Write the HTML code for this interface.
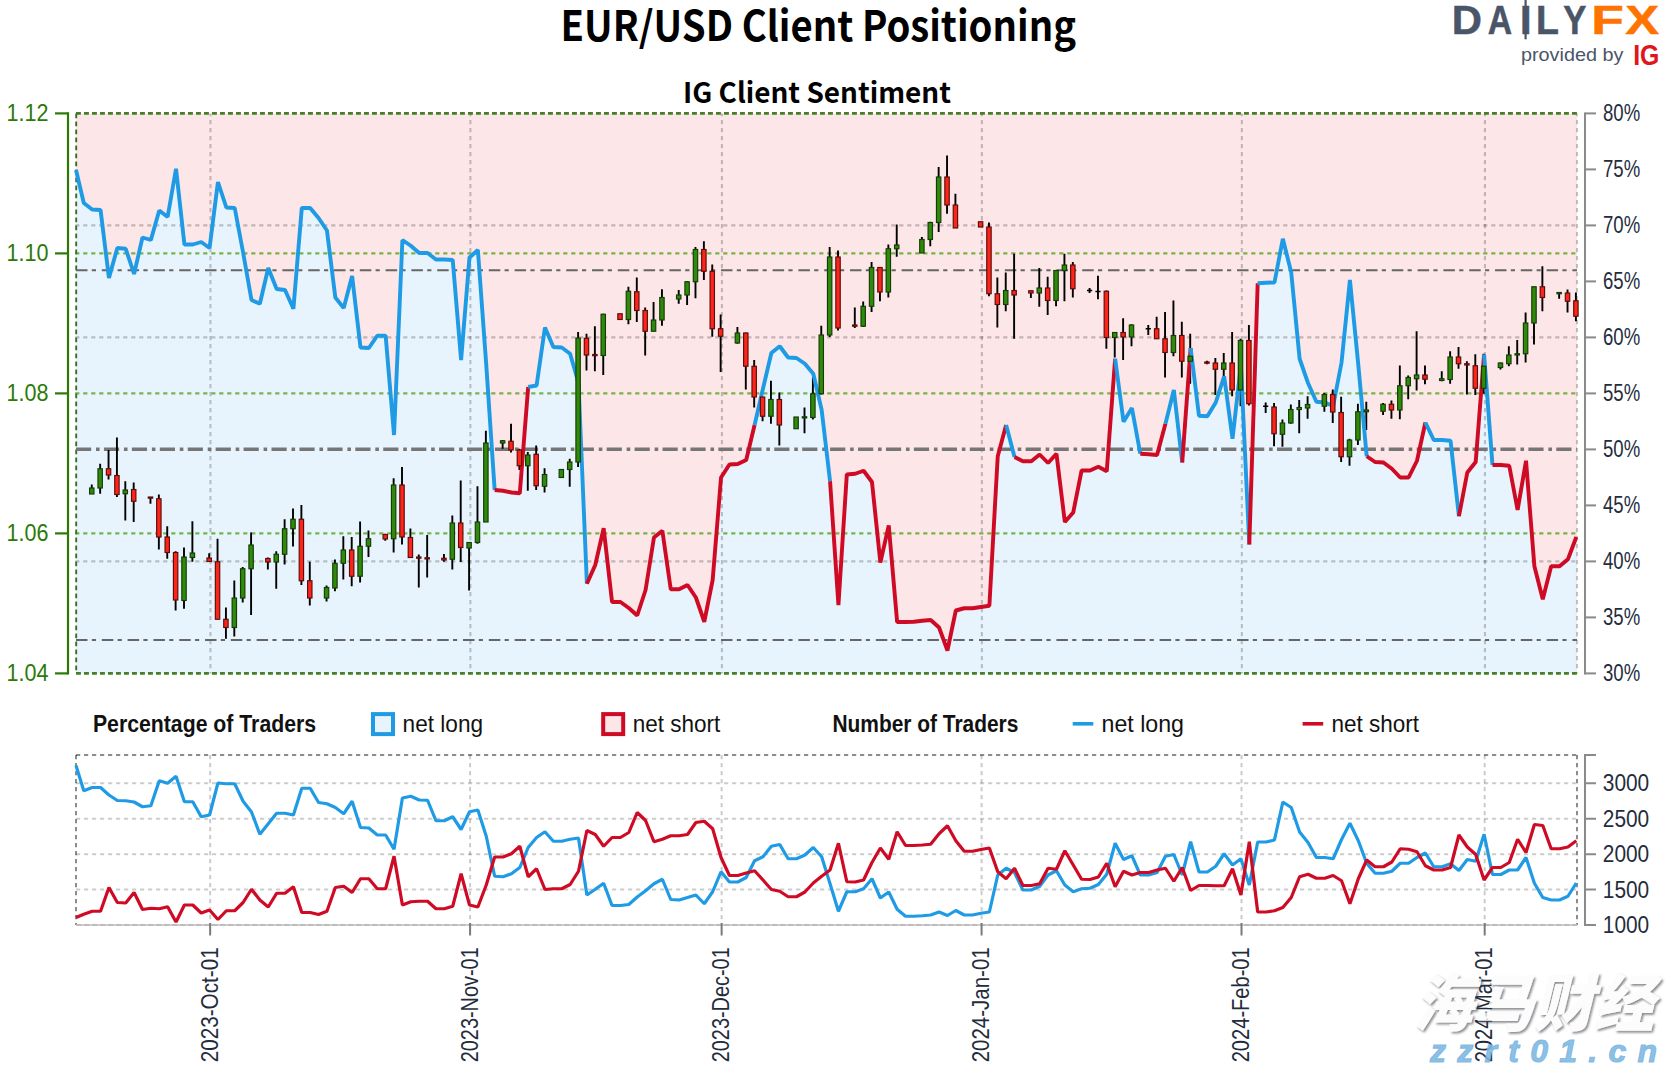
<!DOCTYPE html>
<html lang="en"><head><meta charset="utf-8"><title>EUR/USD Client Positioning</title>
<style>html,body{margin:0;padding:0;background:#fff}body{width:1665px;height:1066px;overflow:hidden}svg{display:block}text{font-family:"Liberation Sans", "DejaVu Sans", sans-serif}.tf{font-family:"Noto Sans CJK SC", "Liberation Sans", sans-serif}.cj{font-family:"Noto Sans CJK SC","WenQuanYi Zen Hei",sans-serif}</style>
</head><body>
<svg width="1665" height="1066" viewBox="0 0 1665 1066">
<rect width="1665" height="1066" fill="#fff"/>
<rect x="76" y="113.4" width="1501" height="560" fill="#fce6e8"/>
<polygon points="76,170 83.79,203 92.17,209.5 100.56,210 108.94,278 117.33,248 125.71,248.75 134.09,274 142.48,237.5 150.87,240 159.25,210.5 167.64,217 176.02,168.75 184.41,244.5 192.79,244.5 201.17,242 209.56,248 217.94,182 226.33,207.5 234.72,208 243.1,252.5 251.49,300 259.87,303.75 268.25,268 276.64,289 285.02,290 293.41,308.75 301.79,208 310.18,208 318.56,218 326.95,230.5 335.33,297.5 343.72,308 352.1,276 360.49,347.5 368.87,348 377.26,335.75 385.64,335.75 394.03,435 402.41,240 410.8,245.75 419.18,253 427.57,253 435.95,259.5 444.34,259.5 452.72,260 461.11,360 469.49,257.5 477.88,250 486.26,365 494.65,490 503.03,490.75 511.42,492.5 519.8,493.25 528.19,387 536.57,385.5 544.96,327.5 553.34,347 561.73,347.5 570.11,353.75 578.5,383 586.88,583.75 595.27,565 603.65,528.25 612.04,602 620.42,602 628.81,608 637.19,615.5 645.58,590 653.96,537.5 662.35,530.75 670.74,589.25 679.12,589.25 687.5,585 695.89,597.5 704.27,621.75 712.66,580 721.04,477.5 729.43,464.5 737.81,464 746.2,460 754.58,425 762.97,388.75 771.35,353 779.74,346.25 788.12,357.5 796.51,358 804.89,363.75 813.28,373.75 821.66,410 830.05,481.25 838.43,605 846.82,474.5 855.2,473.75 863.59,470.75 871.97,482 880.36,562.5 888.75,525.5 897.13,622 905.51,622 913.9,621.75 922.28,620.75 930.67,620 939.05,627.5 947.44,650.5 955.82,610.5 964.21,608.25 972.59,608.25 980.98,607 989.37,605.75 997.75,456.25 1006.13,425 1014.52,457 1022.9,461.25 1031.29,461.25 1039.68,454.5 1048.06,463 1056.45,453.75 1064.83,522 1073.22,512.5 1081.6,470.5 1089.99,470.5 1098.37,466.75 1106.76,471.25 1115.14,358.75 1123.53,421.75 1131.91,408 1140.3,453.75 1148.68,454.25 1157.07,455 1165.45,423.75 1173.84,390 1182.22,462.5 1190.61,348 1198.99,415.75 1207.38,416.25 1215.76,402.5 1224.14,376.25 1232.53,438.75 1240.91,365 1249.3,544.5 1257.69,283.25 1266.07,282.75 1274.46,282.5 1282.84,238.75 1291.23,272.5 1299.61,358.75 1308,383 1316.38,401.75 1324.77,402.5 1333.15,406 1341.54,362.5 1349.92,280 1358.31,365 1366.69,456.25 1375.08,462 1383.46,462.5 1391.85,468.75 1400.23,477.5 1408.62,477.5 1417,460.75 1425.38,422.5 1433.77,440 1442.15,440 1450.54,440.75 1458.92,516.25 1467.31,472.5 1475.7,462 1484.08,354.5 1492.47,465 1500.85,465 1509.24,465.75 1517.62,510 1526.01,460.75 1534.39,566.25 1542.78,599.25 1551.16,566.25 1559.55,566.25 1567.93,559.25 1576.32,537 1577,673.4 76,673.4" fill="#e8f4fd"/>
<g fill="none" stroke-width="2.1" stroke-dasharray="4.2 3.8">
<path d="M75.2 225.4H1577" stroke="#000" stroke-opacity="0.22"/>
<path d="M75.2 337.4H1577" stroke="#000" stroke-opacity="0.22"/>
<path d="M75.2 561.4H1577" stroke="#000" stroke-opacity="0.22"/>
<path d="M210.46 673.4V113.4" stroke="#000" stroke-opacity="0.22" stroke-dashoffset="2.8"/>
<path d="M470.39 673.4V113.4" stroke="#000" stroke-opacity="0.22" stroke-dashoffset="2.8"/>
<path d="M721.94 673.4V113.4" stroke="#000" stroke-opacity="0.22" stroke-dashoffset="2.8"/>
<path d="M981.88 673.4V113.4" stroke="#000" stroke-opacity="0.22" stroke-dashoffset="2.8"/>
<path d="M1241.81 673.4V113.4" stroke="#000" stroke-opacity="0.22" stroke-dashoffset="2.8"/>
<path d="M1484.98 673.4V113.4" stroke="#000" stroke-opacity="0.22" stroke-dashoffset="2.8"/>
<path d="M1577 673.4V113.4" stroke="#000" stroke-opacity="0.22" stroke-dashoffset="2.8"/>
<path d="M75.2 253.4H1577" stroke="#77b34a"/>
<path d="M75.2 393.4H1577" stroke="#77b34a"/>
<path d="M75.2 533.4H1577" stroke="#77b34a"/>
</g>
<g fill="none" stroke="#457f2a" stroke-width="2.6" stroke-dasharray="4.9 3.1">
<path d="M76 113.4H1577"/>
<path d="M76 673.4H1577"/>
<path d="M76.2 113.4V673.4" stroke-width="1.9" stroke="#3a6e25"/>
</g>
<path d="M76 270.25H1577" fill="none" stroke="#666" stroke-width="1.8" stroke-dasharray="11.5 4.3 4.2 5.8"/>
<path d="M76 640H1577" fill="none" stroke="#666" stroke-width="1.8" stroke-dasharray="11.5 4.3 4.2 5.8"/>
<path d="M76 449.3H1577" fill="none" stroke="#767676" stroke-width="3.6" stroke-dasharray="15.2 4.8 3.6 4.33"/>
<g stroke="#000" stroke-width="1.9" fill="none">
<path d="M91.77 484.5V494M100.16 463.75V493.75M108.54 450V479.5M116.92 437.5V497M125.31 481.25V520.5M133.69 482.5V522M150.47 497V503.75M158.85 494.5V549.5M167.24 526.25V558.75M175.62 551.25V610.5M184 547.5V608.75M192.39 521.25V561.75M209.16 553.25V562M217.54 538.75V619.25M225.93 607.5V638.75M234.31 580.5V636.5M242.7 567V602.5M251.09 532.5V615M267.86 557.5V569.5M276.24 551.25V588.75M284.62 519.25V564.5M293.01 508.5V546.5M301.39 505V585M309.78 561.75V605.5M326.55 585.5V601.5M334.94 559.5V591.25M343.32 536.25V579.5M351.7 537V586.25M360.09 521.5V582.5M368.47 530.5V557M385.25 533.75V540.75M393.63 478.25V552.5M402.01 467V544.5M410.4 528.5V558M418.78 554.5V587.5M427.17 535V577.5M443.94 554V561.75M452.32 515.5V569.5M460.71 480.5V562M469.09 542V590.5M477.48 486.25V543.75M485.87 430.75V522M502.63 440V448.75M511.02 423.75V452.5M519.4 448.75V470M527.79 452V490.75M536.17 445.5V490M544.56 468.25V492.5M569.71 458.75V486.75M578.1 332V467M586.49 333.75V370.5M594.87 326.25V371.25M603.25 313.75V375M628.41 286.75V324.25M636.79 277.5V322M645.18 307.5V355.5M653.56 302V331.25M661.95 289.25V325.75M678.72 290V303.75M687.11 281.25V305M695.49 247V298.25M703.88 241.25V280M712.26 264.5V336.75M720.64 314.5V372M737.41 327V343.75M745.8 332.5V389.5M754.18 360V407.5M762.57 397V421.25M770.95 380.75V423.75M779.34 392.5V445.5M804.5 407.5V433.25M812.88 377.5V419.5M821.26 325.75V394.5M829.65 247V337M838.03 250.5V330.5M854.8 307.5V328M863.19 301.5V327M871.57 262V312M879.96 267V301.25M888.35 244.5V297.5M896.73 224.5V256.75M921.88 237V253M930.27 221.75V246.25M938.65 167V232M947.04 155.5V213.75M955.42 193.75V228M988.97 222.5V296.25M997.35 277.5V327.5M1005.74 272.5V311.25M1014.12 253.75V338.75M1030.89 290.75V298M1039.28 268V306.75M1047.66 276.75V315M1056.05 270V306.25M1064.43 253.75V301.25M1072.82 262V297.5M1089.59 288V293M1097.97 275.75V299.25M1106.36 290.5V348.75M1114.74 332V357.5M1123.12 318.25V360M1131.51 324.25V346.25M1148.28 325V335M1156.66 316.75V338.75M1165.05 312V377.5M1173.43 300.5V356.25M1181.82 321.75V377.5M1190.2 333.75V383.75M1206.97 360.75V364.25M1215.36 358V395M1223.74 353V376.25M1232.13 332V396.25M1240.51 338.75V406.25M1248.9 325V405.5M1265.67 402.5V413M1274.06 403V446.25M1282.44 419.5V446.75M1290.83 404.5V423.75M1299.21 400V433.25M1307.6 396.25V418.75M1324.37 393V411.75M1332.75 389.5V423M1341.13 396.75V462M1349.52 438.75V465.75M1357.9 403.75V445M1366.29 401.75V430M1383.06 403V415M1391.44 400.5V418.75M1399.83 365.5V419.25M1408.21 375.5V399.25M1416.6 331.25V390.5M1424.98 365.5V384.25M1441.75 371.25V381.25M1450.14 351.25V383.75M1458.52 347V368.75M1466.91 361.25V394.5M1475.3 354.25V395M1483.68 353.75V393.75M1500.45 362.5V369.5M1508.84 346.25V366.25M1517.22 340V364.5M1525.61 312.5V362.5M1533.99 286.75V344.5M1542.38 266.25V311.25M1559.14 292.5V298.75M1567.53 289.5V312.5M1575.91 292.5V321.25"/>
</g>
<g fill="none" stroke-width="3.9" stroke-linejoin="bevel" stroke-linecap="butt">
<polyline stroke="#1e9be4" points="76,170 83.79,203 92.17,209.5 100.56,210 108.94,278 117.33,248 125.71,248.75 134.09,274 142.48,237.5 150.87,240 159.25,210.5 167.64,217 176.02,168.75 184.41,244.5 192.79,244.5 201.17,242 209.56,248 217.94,182 226.33,207.5 234.72,208 243.1,252.5 251.49,300 259.87,303.75 268.25,268 276.64,289 285.02,290 293.41,308.75 301.79,208 310.18,208 318.56,218 326.95,230.5 335.33,297.5 343.72,308 352.1,276 360.49,347.5 368.87,348 377.26,335.75 385.64,335.75 394.03,435 402.41,240 410.8,245.75 419.18,253 427.57,253 435.95,259.5 444.34,259.5 452.72,260 461.11,360 469.49,257.5 477.88,250 486.26,365 494.65,490"/>
<polyline stroke="#cf0a24" points="494.65,490 503.03,490.75 511.42,492.5 519.8,493.25 528.19,387"/>
<polyline stroke="#1e9be4" points="528.19,387 536.57,385.5 544.96,327.5 553.34,347 561.73,347.5 570.11,353.75 578.5,383 586.88,583.75"/>
<polyline stroke="#cf0a24" points="586.88,583.75 595.27,565 603.65,528.25 612.04,602 620.42,602 628.81,608 637.19,615.5 645.58,590 653.96,537.5 662.35,530.75 670.74,589.25 679.12,589.25 687.5,585 695.89,597.5 704.27,621.75 712.66,580 721.04,477.5 729.43,464.5 737.81,464 746.2,460 754.58,425"/>
<polyline stroke="#1e9be4" points="754.58,425 762.97,388.75 771.35,353 779.74,346.25 788.12,357.5 796.51,358 804.89,363.75 813.28,373.75 821.66,410 830.05,481.25"/>
<polyline stroke="#cf0a24" points="830.05,481.25 838.43,605 846.82,474.5 855.2,473.75 863.59,470.75 871.97,482 880.36,562.5 888.75,525.5 897.13,622 905.51,622 913.9,621.75 922.28,620.75 930.67,620 939.05,627.5 947.44,650.5 955.82,610.5 964.21,608.25 972.59,608.25 980.98,607 989.37,605.75 997.75,456.25 1006.13,425"/>
<polyline stroke="#1e9be4" points="1006.13,425 1014.52,457"/>
<polyline stroke="#cf0a24" points="1014.52,457 1022.9,461.25 1031.29,461.25 1039.68,454.5 1048.06,463 1056.45,453.75 1064.83,522 1073.22,512.5 1081.6,470.5 1089.99,470.5 1098.37,466.75 1106.76,471.25 1115.14,358.75"/>
<polyline stroke="#1e9be4" points="1115.14,358.75 1123.53,421.75 1131.91,408 1140.3,453.75"/>
<polyline stroke="#cf0a24" points="1140.3,453.75 1148.68,454.25 1157.07,455 1165.45,423.75"/>
<polyline stroke="#1e9be4" points="1165.45,423.75 1173.84,390 1182.22,462.5"/>
<polyline stroke="#cf0a24" points="1182.22,462.5 1190.61,348"/>
<polyline stroke="#1e9be4" points="1190.61,348 1198.99,415.75 1207.38,416.25 1215.76,402.5 1224.14,376.25 1232.53,438.75 1240.91,365 1249.3,544.5"/>
<polyline stroke="#cf0a24" points="1249.3,544.5 1257.69,283.25"/>
<polyline stroke="#1e9be4" points="1257.69,283.25 1266.07,282.75 1274.46,282.5 1282.84,238.75 1291.23,272.5 1299.61,358.75 1308,383 1316.38,401.75 1324.77,402.5 1333.15,406 1341.54,362.5 1349.92,280 1358.31,365 1366.69,456.25"/>
<polyline stroke="#cf0a24" points="1366.69,456.25 1375.08,462 1383.46,462.5 1391.85,468.75 1400.23,477.5 1408.62,477.5 1417,460.75 1425.38,422.5"/>
<polyline stroke="#1e9be4" points="1425.38,422.5 1433.77,440 1442.15,440 1450.54,440.75 1458.92,516.25"/>
<polyline stroke="#cf0a24" points="1458.92,516.25 1467.31,472.5 1475.7,462 1484.08,354.5"/>
<polyline stroke="#1e9be4" points="1484.08,354.5 1492.47,465"/>
<polyline stroke="#cf0a24" points="1492.47,465 1500.85,465 1509.24,465.75 1517.62,510 1526.01,460.75 1534.39,566.25 1542.78,599.25 1551.16,566.25 1559.55,566.25 1567.93,559.25 1576.32,537"/>
</g>
<g fill="#2f8a0b" stroke="#143d05" stroke-width="1.15"><rect x="89.57" y="488" width="4.4" height="6"/><rect x="97.95" y="468.75" width="4.4" height="19.25"/><rect x="123.11" y="490" width="4.4" height="3.75"/><rect x="181.81" y="557" width="4.4" height="43.5"/><rect x="190.19" y="553" width="4.4" height="4.5"/><rect x="232.12" y="598" width="4.4" height="29.5"/><rect x="240.5" y="568.75" width="4.4" height="29.25"/><rect x="248.89" y="545" width="4.4" height="23.75"/><rect x="274.04" y="554.25" width="4.4" height="7.75"/><rect x="282.43" y="528.75" width="4.4" height="25.5"/><rect x="290.81" y="519.25" width="4.4" height="9.5"/><rect x="324.35" y="587.5" width="4.4" height="10.5"/><rect x="332.74" y="563.25" width="4.4" height="24.75"/><rect x="341.12" y="550" width="4.4" height="13.25"/><rect x="357.89" y="546.25" width="4.4" height="30"/><rect x="366.27" y="538.75" width="4.4" height="7.5"/><rect x="391.43" y="485" width="4.4" height="53.75"/><rect x="450.12" y="523" width="4.4" height="36.25"/><rect x="466.89" y="542.5" width="4.4" height="5.5"/><rect x="475.28" y="522" width="4.4" height="20.5"/><rect x="483.67" y="443" width="4.4" height="79"/><rect x="500.44" y="440.75" width="4.4" height="2.25"/><rect x="525.59" y="455" width="4.4" height="10.75"/><rect x="542.36" y="474.5" width="4.4" height="11.75"/><rect x="559.13" y="469.5" width="4.4" height="8"/><rect x="567.51" y="462" width="4.4" height="7.5"/><rect x="575.9" y="338" width="4.4" height="124"/><rect x="601.05" y="314.25" width="4.4" height="41.25"/><rect x="626.21" y="291.25" width="4.4" height="28.25"/><rect x="651.36" y="320" width="4.4" height="11.25"/><rect x="659.75" y="297.5" width="4.4" height="22.5"/><rect x="676.52" y="295" width="4.4" height="4"/><rect x="684.9" y="281.75" width="4.4" height="13.25"/><rect x="693.29" y="249.5" width="4.4" height="32.25"/><rect x="735.21" y="333" width="4.4" height="10"/><rect x="768.75" y="399.5" width="4.4" height="16.75"/><rect x="793.91" y="417" width="4.4" height="11.75"/><rect x="802.29" y="416.75" width="4.4" height="1.2"/><rect x="810.68" y="393.75" width="4.4" height="23.75"/><rect x="819.06" y="335" width="4.4" height="58.75"/><rect x="827.45" y="257" width="4.4" height="78"/><rect x="860.99" y="306.25" width="4.4" height="20"/><rect x="869.37" y="267.5" width="4.4" height="38.75"/><rect x="886.14" y="248.75" width="4.4" height="43.25"/><rect x="894.53" y="245" width="4.4" height="3.75"/><rect x="919.68" y="239.5" width="4.4" height="13.5"/><rect x="928.07" y="222.5" width="4.4" height="17"/><rect x="936.45" y="177" width="4.4" height="45.5"/><rect x="1003.53" y="290.5" width="4.4" height="14"/><rect x="1037.08" y="288" width="4.4" height="5"/><rect x="1053.85" y="270.5" width="4.4" height="30"/><rect x="1062.23" y="265" width="4.4" height="5.5"/><rect x="1112.54" y="332.5" width="4.4" height="5"/><rect x="1129.31" y="325" width="4.4" height="12"/><rect x="1171.23" y="335.5" width="4.4" height="17"/><rect x="1188" y="356.25" width="4.4" height="5"/><rect x="1221.54" y="363" width="4.4" height="6.25"/><rect x="1238.31" y="340.5" width="4.4" height="49.5"/><rect x="1280.24" y="423" width="4.4" height="11.25"/><rect x="1288.62" y="409.5" width="4.4" height="13.5"/><rect x="1297.01" y="407.5" width="4.4" height="2"/><rect x="1305.39" y="404.5" width="4.4" height="3.5"/><rect x="1322.16" y="394.5" width="4.4" height="11.75"/><rect x="1347.32" y="440" width="4.4" height="16.75"/><rect x="1355.7" y="411.75" width="4.4" height="28.25"/><rect x="1364.09" y="410" width="4.4" height="1.75"/><rect x="1380.86" y="404.25" width="4.4" height="7"/><rect x="1397.63" y="385.75" width="4.4" height="24.25"/><rect x="1406.01" y="377.5" width="4.4" height="8.25"/><rect x="1414.4" y="375" width="4.4" height="3.75"/><rect x="1439.55" y="378.75" width="4.4" height="1.75"/><rect x="1447.94" y="357" width="4.4" height="22.5"/><rect x="1481.48" y="366.25" width="4.4" height="22"/><rect x="1498.25" y="363" width="4.4" height="4.5"/><rect x="1506.63" y="355" width="4.4" height="8.75"/><rect x="1515.02" y="353.75" width="4.4" height="1.25"/><rect x="1523.4" y="323" width="4.4" height="30.75"/><rect x="1531.79" y="286.75" width="4.4" height="36.25"/><rect x="1556.94" y="292.5" width="4.4" height="1.25"/></g>
<g fill="#ff2419" stroke="#5a0d0a" stroke-width="1.15"><rect x="106.34" y="468.75" width="4.4" height="6.25"/><rect x="114.72" y="475.5" width="4.4" height="19"/><rect x="131.5" y="489.5" width="4.4" height="11.75"/><rect x="148.27" y="497" width="4.4" height="1.2"/><rect x="156.65" y="498.75" width="4.4" height="38.25"/><rect x="165.04" y="537" width="4.4" height="15.5"/><rect x="173.42" y="552.5" width="4.4" height="47.5"/><rect x="206.96" y="558" width="4.4" height="3.5"/><rect x="215.34" y="561.75" width="4.4" height="57.5"/><rect x="223.73" y="619.25" width="4.4" height="8.25"/><rect x="265.66" y="558.5" width="4.4" height="3.5"/><rect x="299.19" y="519.25" width="4.4" height="61.5"/><rect x="307.58" y="580.75" width="4.4" height="17.25"/><rect x="349.5" y="550" width="4.4" height="26.25"/><rect x="383.05" y="534.5" width="4.4" height="4.5"/><rect x="399.81" y="485" width="4.4" height="52"/><rect x="408.2" y="537.5" width="4.4" height="20"/><rect x="416.58" y="557" width="4.4" height="1.2"/><rect x="424.97" y="557.75" width="4.4" height="1.2"/><rect x="441.74" y="558.25" width="4.4" height="1.75"/><rect x="458.51" y="523" width="4.4" height="24.5"/><rect x="508.82" y="441.25" width="4.4" height="8.75"/><rect x="517.2" y="450" width="4.4" height="15.75"/><rect x="533.97" y="454.25" width="4.4" height="31.5"/><rect x="584.28" y="338.25" width="4.4" height="16.75"/><rect x="592.67" y="354.5" width="4.4" height="1.2"/><rect x="617.82" y="313.75" width="4.4" height="5.75"/><rect x="634.59" y="291.75" width="4.4" height="18.75"/><rect x="642.98" y="310.5" width="4.4" height="20.75"/><rect x="701.67" y="249.5" width="4.4" height="21.75"/><rect x="710.06" y="271.25" width="4.4" height="57.5"/><rect x="718.44" y="328.75" width="4.4" height="7.5"/><rect x="743.6" y="333" width="4.4" height="33.25"/><rect x="751.98" y="366.25" width="4.4" height="30.75"/><rect x="760.37" y="397" width="4.4" height="19.25"/><rect x="777.14" y="399.5" width="4.4" height="25.5"/><rect x="835.83" y="257" width="4.4" height="71"/><rect x="852.6" y="325" width="4.4" height="1.25"/><rect x="877.76" y="267.5" width="4.4" height="24.5"/><rect x="944.84" y="177" width="4.4" height="28"/><rect x="953.22" y="205" width="4.4" height="23"/><rect x="978.38" y="221.75" width="4.4" height="5.25"/><rect x="986.76" y="227" width="4.4" height="66.75"/><rect x="995.15" y="293.75" width="4.4" height="10.75"/><rect x="1011.92" y="290.5" width="4.4" height="4.5"/><rect x="1028.69" y="290.75" width="4.4" height="2.25"/><rect x="1045.46" y="288" width="4.4" height="12.5"/><rect x="1070.62" y="265" width="4.4" height="23.75"/><rect x="1104.15" y="291.25" width="4.4" height="46.25"/><rect x="1120.92" y="332.5" width="4.4" height="4.5"/><rect x="1154.46" y="328.75" width="4.4" height="10"/><rect x="1162.85" y="338.75" width="4.4" height="13.75"/><rect x="1179.62" y="335.5" width="4.4" height="25.75"/><rect x="1204.77" y="362" width="4.4" height="1.2"/><rect x="1213.16" y="363" width="4.4" height="6.25"/><rect x="1229.93" y="363" width="4.4" height="27"/><rect x="1246.7" y="340.5" width="4.4" height="63.25"/><rect x="1271.86" y="407" width="4.4" height="26.75"/><rect x="1330.55" y="394.5" width="4.4" height="17.5"/><rect x="1338.93" y="412.5" width="4.4" height="44.25"/><rect x="1389.24" y="404.25" width="4.4" height="5.75"/><rect x="1422.78" y="375" width="4.4" height="4.25"/><rect x="1456.32" y="357" width="4.4" height="6.75"/><rect x="1464.71" y="363.75" width="4.4" height="1.25"/><rect x="1473.1" y="365.75" width="4.4" height="22.5"/><rect x="1540.17" y="286.75" width="4.4" height="10.75"/><rect x="1565.33" y="293" width="4.4" height="8.25"/><rect x="1573.71" y="300.75" width="4.4" height="15.5"/></g>
<path d="M1086.99 290.5H1092.18M1095.37 291.5H1100.57M1145.68 328.75H1150.88M1263.07 406.25H1268.27" stroke="#000" stroke-width="1.6" fill="none"/>
<g fill="none" stroke="#2b7a06" stroke-width="2.2">
<path d="M68 112.3V674.5"/>
<path d="M55 113.4H68"/>
<path d="M55 253.4H68"/>
<path d="M55 393.4H68"/>
<path d="M55 533.4H68"/>
<path d="M55 673.4H68"/>
</g>
<g fill="none" stroke="#8a8a8a" stroke-width="2">
<path d="M1585 112.4V674.4"/>
<path d="M1585 113.4H1596"/>
<path d="M1585 169.4H1596"/>
<path d="M1585 225.4H1596"/>
<path d="M1585 281.4H1596"/>
<path d="M1585 337.4H1596"/>
<path d="M1585 393.4H1596"/>
<path d="M1585 449.4H1596"/>
<path d="M1585 505.4H1596"/>
<path d="M1585 561.4H1596"/>
<path d="M1585 617.4H1596"/>
<path d="M1585 673.4H1596"/>
</g>
<text x="6.6" y="121" font-size="23" fill="#2b7a06" textLength="41.9" lengthAdjust="spacingAndGlyphs">1.12</text>
<text x="6.6" y="261" font-size="23" fill="#2b7a06" textLength="41.9" lengthAdjust="spacingAndGlyphs">1.10</text>
<text x="6.6" y="401" font-size="23" fill="#2b7a06" textLength="41.9" lengthAdjust="spacingAndGlyphs">1.08</text>
<text x="6.6" y="541" font-size="23" fill="#2b7a06" textLength="41.9" lengthAdjust="spacingAndGlyphs">1.06</text>
<text x="6.6" y="681" font-size="23" fill="#2b7a06" textLength="41.9" lengthAdjust="spacingAndGlyphs">1.04</text>
<text x="1603" y="120.8" font-size="23" fill="#1f2d3d" textLength="37.2" lengthAdjust="spacingAndGlyphs">80%</text>
<text x="1603" y="176.8" font-size="23" fill="#1f2d3d" textLength="37.2" lengthAdjust="spacingAndGlyphs">75%</text>
<text x="1603" y="232.8" font-size="23" fill="#1f2d3d" textLength="37.2" lengthAdjust="spacingAndGlyphs">70%</text>
<text x="1603" y="288.8" font-size="23" fill="#1f2d3d" textLength="37.2" lengthAdjust="spacingAndGlyphs">65%</text>
<text x="1603" y="344.8" font-size="23" fill="#1f2d3d" textLength="37.2" lengthAdjust="spacingAndGlyphs">60%</text>
<text x="1603" y="400.8" font-size="23" fill="#1f2d3d" textLength="37.2" lengthAdjust="spacingAndGlyphs">55%</text>
<text x="1603" y="456.8" font-size="23" fill="#1f2d3d" textLength="37.2" lengthAdjust="spacingAndGlyphs">50%</text>
<text x="1603" y="512.8" font-size="23" fill="#1f2d3d" textLength="37.2" lengthAdjust="spacingAndGlyphs">45%</text>
<text x="1603" y="568.8" font-size="23" fill="#1f2d3d" textLength="37.2" lengthAdjust="spacingAndGlyphs">40%</text>
<text x="1603" y="624.8" font-size="23" fill="#1f2d3d" textLength="37.2" lengthAdjust="spacingAndGlyphs">35%</text>
<text x="1603" y="680.8" font-size="23" fill="#1f2d3d" textLength="37.2" lengthAdjust="spacingAndGlyphs">30%</text>
<text x="92.9" y="732" font-size="23" fill="#111" font-weight="bold" textLength="223.2" lengthAdjust="spacingAndGlyphs">Percentage of Traders</text>
<rect x="373" y="714.1" width="20" height="20" fill="#e8f4fd" stroke="#1e9be4" stroke-width="4"/>
<text x="402.6" y="732" font-size="24.5" fill="#111" textLength="80.5" lengthAdjust="spacingAndGlyphs">net long</text>
<rect x="603.2" y="714.1" width="20" height="20" fill="#fce6e8" stroke="#cf0a24" stroke-width="4"/>
<text x="632.7" y="732" font-size="24.5" fill="#111" textLength="87.5" lengthAdjust="spacingAndGlyphs">net short</text>
<text x="832.4" y="732" font-size="23" fill="#111" font-weight="bold" textLength="186" lengthAdjust="spacingAndGlyphs">Number of Traders</text>
<path d="M1072.7 723.8H1093.3" stroke="#1e9be4" stroke-width="3.6"/>
<text x="1101.5" y="732" font-size="24.5" fill="#111" textLength="82.5" lengthAdjust="spacingAndGlyphs">net long</text>
<path d="M1302.6 723.8H1323.2" stroke="#cf0a24" stroke-width="3.6"/>
<text x="1331.5" y="732" font-size="24.5" fill="#111" textLength="87.6" lengthAdjust="spacingAndGlyphs">net short</text>
<g fill="none" stroke="#000" stroke-opacity="0.2" stroke-width="2" stroke-dasharray="4.2 3.8">
<path d="M76 783.25H1577"/>
<path d="M76 818.75H1577"/>
<path d="M76 854.25H1577"/>
<path d="M76 889.5H1577"/>
<path d="M210.16 755V925"/>
<path d="M470.09 755V925"/>
<path d="M721.64 755V925"/>
<path d="M981.58 755V925"/>
<path d="M1241.51 755V925"/>
<path d="M1484.68 755V925"/>
</g>
<g fill="none" stroke="#000" stroke-opacity="0.45" stroke-width="2" stroke-dasharray="4.2 3.8">
<path d="M76 755H1577"/>
<path d="M76 755V925"/>
<path d="M1577 755V925"/>
</g>
<path d="M76 925H1577" fill="none" stroke="#d2d2d2" stroke-width="2"/>
<path d="M76 925H1577" fill="none" stroke="#bcbcbc" stroke-width="2" stroke-dasharray="5.6 2.4"/>
<g fill="none" stroke-width="3.2" stroke-linejoin="bevel">
<polyline stroke="#1e9be4" points="76,765.5 83.79,790.75 92.17,787.5 100.56,787.5 108.94,795 117.33,800.5 125.71,800.75 134.09,802 142.48,806.75 150.87,805.75 159.25,780.75 167.64,783.25 176.02,776.25 184.41,801.75 192.79,801.75 201.17,816.75 209.56,815 217.94,783 226.33,783.75 234.72,783.75 243.1,801.25 251.49,812 259.87,834.25 268.25,823.75 276.64,813.25 285.02,813.25 293.41,815 301.79,788.25 310.18,788.25 318.56,802.5 326.95,803.75 335.33,807.5 343.72,813.75 352.1,801.25 360.49,827.5 368.87,828 377.26,835 385.64,835 394.03,849.25 402.41,798 410.8,796.25 419.18,800 427.57,800.25 435.95,820.75 444.34,820.75 452.72,816.75 461.11,829.5 469.49,811.75 477.88,810 486.26,836.25 494.65,876.25 503.03,876.75 511.42,873.75 519.8,867.5 528.19,847.5 536.57,837.5 544.96,831.75 553.34,841.25 561.73,841.25 570.11,839.25 578.5,838 586.88,895 595.27,889.25 603.65,883.25 612.04,905.5 620.42,905.5 628.81,904.5 637.19,897 645.58,890.75 653.96,883.75 662.35,879.25 670.74,899.5 679.12,900 687.5,897.5 695.89,895 704.27,903.75 712.66,891.75 721.04,871.75 729.43,882 737.81,882 746.2,877.5 754.58,860.75 762.97,856.75 771.35,846.25 779.74,844.5 788.12,858.75 796.51,858.75 804.89,855 813.28,847.5 821.66,856.75 830.05,883.75 838.43,911.25 846.82,891.75 855.2,891.75 863.59,888.75 871.97,878.75 880.36,898 888.75,892 897.13,909.25 905.51,916.25 913.9,916.25 922.28,915.75 930.67,915 939.05,912 947.44,915.5 955.82,910.5 964.21,915 972.59,915 980.98,913.25 989.37,912 997.75,875 1006.13,868.25 1014.52,872.5 1022.9,890 1031.29,890 1039.68,886.25 1048.06,875 1056.45,870.75 1064.83,885 1073.22,891.75 1081.6,888.75 1089.99,888.25 1098.37,884.5 1106.76,874.25 1115.14,843.25 1123.53,859.5 1131.91,855.75 1140.3,875 1148.68,875 1157.07,872.5 1165.45,856.25 1173.84,854.5 1182.22,875 1190.61,841.75 1198.99,872 1207.38,872 1215.76,866.25 1224.14,853.75 1232.53,865 1240.91,858.75 1249.3,885 1257.69,842 1266.07,842 1274.46,840 1282.84,802 1291.23,807.5 1299.61,832 1308,842.5 1316.38,857.5 1324.77,857.5 1333.15,858.75 1341.54,839.5 1349.92,823.25 1358.31,840.75 1366.69,863.25 1375.08,873.25 1383.46,873.25 1391.85,871.25 1400.23,863.25 1408.62,863.25 1417,857.5 1425.38,853 1433.77,866.75 1442.15,866.75 1450.54,863.75 1458.92,870.5 1467.31,859.5 1475.7,861.25 1484.08,834.25 1492.47,874.5 1500.85,874.5 1509.24,870 1517.62,870 1526.01,857.5 1534.39,883.25 1542.78,897.5 1551.16,900 1559.55,900 1567.93,896.25 1576.32,883"/>
<polyline stroke="#cf0a24" points="76,917.5 83.79,914.25 92.17,911.25 100.56,911.25 108.94,887.5 117.33,902.5 125.71,903 134.09,892.5 142.48,909.5 150.87,908.25 159.25,908.75 167.64,906.75 176.02,922 184.41,905 192.79,905 201.17,913 209.56,910 217.94,919.5 226.33,910.75 234.72,910.75 243.1,902.5 251.49,889.25 259.87,900 268.25,907 276.64,893.25 285.02,893.25 293.41,886.75 301.79,912.5 310.18,912.5 318.56,914.5 326.95,911.25 335.33,887.5 343.72,886.25 352.1,892.5 360.49,878.75 368.87,878.75 377.26,888.75 385.64,888.75 394.03,856.25 402.41,905 410.8,901.75 419.18,901.25 427.57,901.25 435.95,908.75 444.34,908.75 452.72,906.25 461.11,873.75 469.49,905 477.88,907 486.26,885 494.65,857 503.03,857 511.42,853.75 519.8,846.25 528.19,876.75 536.57,868.75 544.96,889.5 553.34,888.75 561.73,888.75 570.11,884.5 578.5,871.25 586.88,830.5 595.27,834.5 603.65,846.25 612.04,837.5 620.42,837.5 628.81,832.5 637.19,812.5 645.58,820.5 653.96,841.75 662.35,839.25 670.74,835.75 679.12,835.75 687.5,834.5 695.89,822.5 704.27,821.25 712.66,828.75 721.04,857.5 729.43,875.5 737.81,875.5 746.2,873 754.58,870.75 762.97,880 771.35,889.5 779.74,891.25 788.12,896.75 796.51,896.75 804.89,892 813.28,883 821.66,876.25 830.05,870 838.43,843.25 846.82,881.75 855.2,882 863.59,880 871.97,862.5 880.36,848 888.75,859.25 897.13,831.75 905.51,845.5 913.9,845.5 922.28,845 930.67,844.25 939.05,833.75 947.44,825.75 955.82,840.75 964.21,851.25 972.59,851.25 980.98,849.5 989.37,848 997.75,871.75 1006.13,878.75 1014.52,868.25 1022.9,885.5 1031.29,885.5 1039.68,883.75 1048.06,868.25 1056.45,869.25 1064.83,850.75 1073.22,865 1081.6,879.25 1089.99,879.5 1098.37,877 1106.76,863.25 1115.14,886.75 1123.53,871.25 1131.91,875 1140.3,872.5 1148.68,872.5 1157.07,870 1165.45,868.25 1173.84,881.25 1182.22,867.5 1190.61,890.5 1198.99,885.5 1207.38,885.5 1215.76,885.75 1224.14,885.75 1232.53,868.75 1240.91,895 1249.3,841.75 1257.69,912 1266.07,912 1274.46,910.75 1282.84,907.5 1291.23,897.5 1299.61,876.75 1308,874.25 1316.38,878.25 1324.77,878.25 1333.15,875.5 1341.54,880.75 1349.92,903.75 1358.31,878.75 1366.69,860 1375.08,866.75 1383.46,866.75 1391.85,862 1400.23,848.75 1408.62,849.25 1417,851.75 1425.38,865.75 1433.77,870 1442.15,870 1450.54,867.5 1458.92,835 1467.31,847 1475.7,854.5 1484.08,880 1492.47,867.5 1500.85,867.5 1509.24,862.5 1517.62,839.25 1526.01,852.5 1534.39,824.5 1542.78,825.5 1551.16,848.75 1559.55,848.75 1567.93,847 1576.32,840.75"/>
</g>
<g fill="none" stroke="#8a8a8a" stroke-width="2">
<path d="M1585 754V926"/>
<path d="M1585 755H1596"/>
<path d="M1585 783.25H1596"/>
<path d="M1585 818.75H1596"/>
<path d="M1585 854.25H1596"/>
<path d="M1585 889.5H1596"/>
<path d="M1585 925H1596"/>
</g>
<text x="1602.8" y="791.25" font-size="23" fill="#1f2d3d" textLength="46.4" lengthAdjust="spacingAndGlyphs">3000</text>
<text x="1602.8" y="826.75" font-size="23" fill="#1f2d3d" textLength="46.4" lengthAdjust="spacingAndGlyphs">2500</text>
<text x="1602.8" y="862.25" font-size="23" fill="#1f2d3d" textLength="46.4" lengthAdjust="spacingAndGlyphs">2000</text>
<text x="1602.8" y="897.5" font-size="23" fill="#1f2d3d" textLength="46.4" lengthAdjust="spacingAndGlyphs">1500</text>
<text x="1602.8" y="933" font-size="23" fill="#1f2d3d" textLength="46.4" lengthAdjust="spacingAndGlyphs">1000</text>
<g fill="none" stroke="#7a7a7a" stroke-width="2">
<path d="M210.16 923V935.5"/>
<path d="M470.09 923V935.5"/>
<path d="M721.64 923V935.5"/>
<path d="M981.58 923V935.5"/>
<path d="M1241.51 923V935.5"/>
<path d="M1484.68 923V935.5"/>
</g>
<text transform="translate(217.66 947.3) rotate(-90)" text-anchor="end" font-size="23" fill="#1f2d3d" textLength="115" lengthAdjust="spacingAndGlyphs">2023-Oct-01</text>
<text transform="translate(477.59 947.3) rotate(-90)" text-anchor="end" font-size="23" fill="#1f2d3d" textLength="115" lengthAdjust="spacingAndGlyphs">2023-Nov-01</text>
<text transform="translate(729.14 947.3) rotate(-90)" text-anchor="end" font-size="23" fill="#1f2d3d" textLength="115" lengthAdjust="spacingAndGlyphs">2023-Dec-01</text>
<text transform="translate(989.08 947.3) rotate(-90)" text-anchor="end" font-size="23" fill="#1f2d3d" textLength="115" lengthAdjust="spacingAndGlyphs">2024-Jan-01</text>
<text transform="translate(1249.01 947.3) rotate(-90)" text-anchor="end" font-size="23" fill="#1f2d3d" textLength="115" lengthAdjust="spacingAndGlyphs">2024-Feb-01</text>
<text transform="translate(1492.18 947.3) rotate(-90)" text-anchor="end" font-size="23" fill="#1f2d3d" textLength="115" lengthAdjust="spacingAndGlyphs">2024-Mar-01</text>
<text x="560.6" y="40.9" font-size="41.5" font-weight="700" fill="#000" textLength="515.4" lengthAdjust="spacingAndGlyphs" class="tf">EUR/USD Client Positioning</text>
<text x="683" y="102.9" font-size="28" font-weight="700" fill="#000" textLength="268" lengthAdjust="spacingAndGlyphs" class="tf">IG Client Sentiment</text>
<text transform="translate(1451.71 33.9) scale(1.033 1)" font-size="40.5" font-weight="bold" fill="#4a5568" stroke="#4a5568" stroke-width="0.5">D</text>
<text transform="translate(1487.82 33.9) scale(0.833 1)" font-size="40.5" font-weight="bold" fill="#4a5568" stroke="#4a5568" stroke-width="0.5">A</text>
<text transform="translate(1519.63 33.9) scale(1.067 1)" font-size="40.5" font-weight="bold" fill="#4a5568" stroke="#4a5568" stroke-width="0.5">I</text>
<text transform="translate(1535.92 33.9) scale(0.927 1)" font-size="40.5" font-weight="bold" fill="#4a5568" stroke="#4a5568" stroke-width="0.5">L</text>
<text transform="translate(1563.23 33.9) scale(0.856 1)" font-size="40.5" font-weight="bold" fill="#4a5568" stroke="#4a5568" stroke-width="0.5">Y</text>
<text transform="translate(1591.15 33.9) scale(1.318 1)" font-size="40.5" font-weight="bold" fill="#ff7300" stroke="#ff7300" stroke-width="0.5">F</text>
<text transform="translate(1625.25 33.9) scale(1.254 1)" font-size="40.5" font-weight="bold" fill="#ff7300" stroke="#ff7300" stroke-width="0.5">X</text>
<rect x="1524.5" y="0" width="2.2" height="39.3" fill="#4a5568"/>
<text x="1521" y="60.7" font-size="18.5" fill="#4a5568" textLength="102.4" lengthAdjust="spacingAndGlyphs">provided by</text>
<text x="1633.2" y="65.2" font-size="29" fill="#e0161b" font-weight="bold" textLength="26.2" lengthAdjust="spacingAndGlyphs">IG</text>
<defs><filter id="ws" x="-5%" y="-10%" width="110%" height="125%"><feDropShadow dx="1.6" dy="1.8" stdDeviation="0.9" flood-color="#3c4248" flood-opacity="0.75"/></filter></defs>
<g opacity="0.82"><text x="1413" y="1026" font-size="62" font-weight="900" font-style="italic" fill="#fcfcfc" class="cj" filter="url(#ws)" textLength="241" lengthAdjust="spacingAndGlyphs">海马财经</text></g>
<text x="1430" y="1061.5" font-size="32" font-weight="bold" font-style="italic" fill="#7db7e2" stroke="#7db7e2" stroke-width="1.1" fill-opacity="0.9" stroke-opacity="0.9" textLength="227" lengthAdjust="spacing">zzrt01.cn</text>
</svg></body></html>
